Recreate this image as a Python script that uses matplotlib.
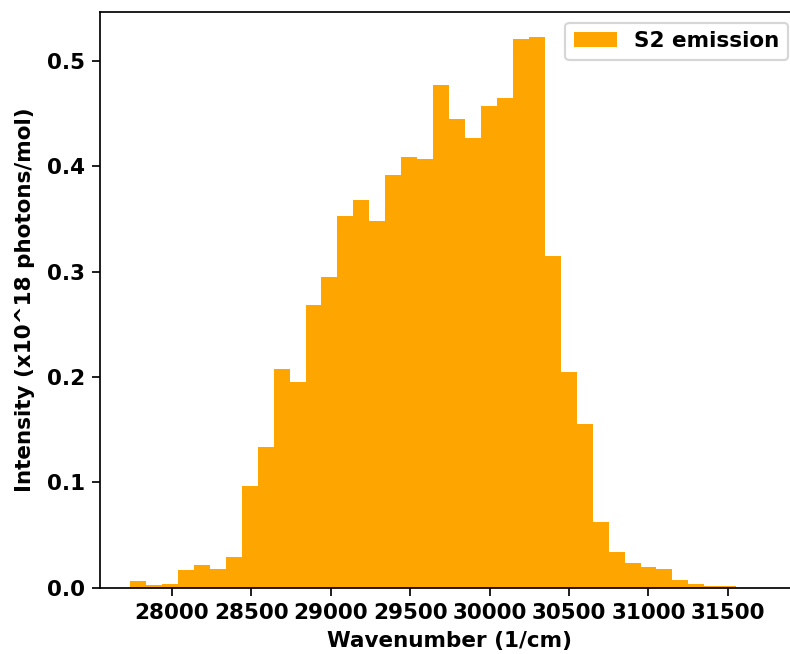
import numpy as np
import matplotlib
matplotlib.use('Agg')
import matplotlib.pyplot as plt

# S2 emission spectrum, binned intensities (x10^18 photons/mol)
bin_lo = 27738.0   # first bin edge, 1/cm
bin_hi = 31552.0   # last bin edge, 1/cm
intensity = [
    0.006, 0.002, 0.0035, 0.017, 0.021, 0.018, 0.029, 0.096, 0.133, 0.208,
    0.195, 0.268, 0.295, 0.353, 0.368, 0.348, 0.392, 0.409, 0.407, 0.477,
    0.445, 0.427, 0.457, 0.465, 0.521, 0.523, 0.315, 0.205, 0.155, 0.062,
    0.034, 0.0235, 0.019, 0.0174, 0.007, 0.003, 0.0012, 0.001,
]
xticks = [28000, 28500, 29000, 29500, 30000, 30500, 31000, 31500]
yticks = [0.0, 0.1, 0.2, 0.3, 0.4, 0.5]

edges = np.linspace(bin_lo, bin_hi, len(intensity) + 1)

plt.rcParams['font.weight'] = 'bold'
plt.rcParams['axes.labelweight'] = 'bold'

dpi = 155
fig = plt.figure(figsize=(790 / dpi, 654 / dpi), dpi=dpi)
# right edge of the axes runs just past the canvas
ax = fig.add_axes([100 / 790, 66.5 / 654, 699 / 790, 575.5 / 654])

ax.hist(edges[:-1], bins=edges, weights=intensity, color='orange', label='S2 emission')

ax.set_xlim(27549, 31947)
ax.set_ylim(0, 0.5466)
ax.set_xticks(xticks)
ax.set_yticks(yticks)
ax.spines['right'].set_visible(False)
ax.set_xlabel('Wavenumber (1/cm)')
ax.set_ylabel('Intensity (x10^18 photons/mol)', labelpad=5.5)
ax.legend(loc='upper right')

fig.savefig('out.png', dpi=dpi)
